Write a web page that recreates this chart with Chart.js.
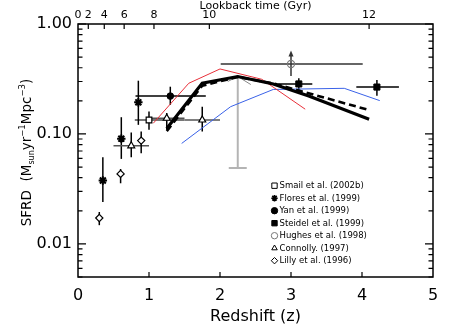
<!DOCTYPE html>
<html><head><meta charset="utf-8">
<script src="https://cdn.jsdelivr.net/npm/chart.js@4/dist/chart.umd.min.js"></script>
<style>html,body{margin:0;padding:0;background:#fff}</style>
</head><body>
<canvas id="c" width="457" height="326"></canvas>
<script>
// ---------- data ----------
const xTickValues = [0, 1, 2, 3, 4, 5];
const yTickValues = [0.01, 0.1, 1];
const lookbackLabels = ['0', '2', '4', '6', '8', '10', '12'];
const lookbackZ = [0, 0.145, 0.37, 0.65, 1.07, 1.85, 4.1];

const smailZ = [1.0], smailV = [0.134], smailLo = [0.109], smailHi = [0.160], smailZLo = [0.8], smailZHi = [1.5];
const smailLimZ = [2.25], smailLimV = [0.333], smailLimLo = [0.049];
const floresZ = [0.35, 0.61, 0.85], floresV = [0.0377, 0.0906, 0.194];
const floresLo = [0.0241, 0.0593, 0.121], floresHi = [0.0614, 0.142, 0.305];
const yanZ = [1.30], yanV = [0.221], yanLo = [0.184], yanHi = [0.269], yanZLo = [0.81], yanZHi = [1.80];
const steidelZ = [3.11, 4.21], steidelV = [0.285, 0.267], steidelLo = [0.251, 0.223], steidelHi = [0.321, 0.310];
const steidelZLo = [2.82, 3.92], steidelZHi = [3.30, 4.52];
const hughesZ = [3.0], hughesV = [0.433], hughesLo = [0.337], hughesHi = [0.54], hughesZLo = [2.01], hughesZHi = [4.01];
const connollyZ = [0.75, 1.25, 1.75], connollyV = [0.078, 0.139, 0.134];
const connollyLo = [0.0614, 0.109, 0.105], connollyHi = [0.103, 0.155, 0.177];
const connollyZLo = [0.5, 1.0, 1.5], connollyZHi = [1.0, 1.5, 2.0];
const lillyZ = [0.30, 0.60, 0.89], lillyV = [0.0172, 0.0433, 0.087];
const lillyLo = [0.0148, 0.0356, 0.0668], lillyHi = [0.0195, 0.048, 0.105];

const modelSolidZ = [1.25, 1.75, 2.25, 2.75, 3.25, 4.1], modelSolidV = [0.112, 0.29, 0.333, 0.285, 0.221, 0.136];
const modelDashZ = [1.25, 1.75, 2.25, 2.75, 4.1], modelDashV = [0.106, 0.275, 0.33, 0.288, 0.165];
const modelRedZ = [1.06, 1.56, 2.0, 2.59, 3.2], modelRedV = [0.125, 0.289, 0.39, 0.314, 0.168];
const modelBlueZ = [1.46, 2.15, 2.75, 3.75, 4.25], modelBlueV = [0.082, 0.177, 0.254, 0.26, 0.201];

const legendLabels = ['Smail et al. (2002b)', 'Flores et al. (1999)', 'Yan et al. (1999)', 'Steidel et al. (1999)',
  'Hughes et al. (1998)', 'Connolly. (1997)', 'Lilly et al. (1996)'];
const xTitle = 'Redshift (z)';
const topTitle = 'Lookback time (Gyr)';
const yTitleParts = [['SFRD  (M', 0], ['sun', -1], ['yr', 0], ['\u22121', 1], ['Mpc', 0], ['\u22123', 1], [')', 0]];

// ---------- helpers ----------
const pts = (zs, vs) => zs.map((z, i) => ({x: z, y: vs[i]}));
const errs = (zs, lo, hi, zlo, zhi) => zs.map((z, i) => ({
  lo: lo ? lo[i] : null, hi: hi ? hi[i] : null, zlo: zlo ? zlo[i] : null, zhi: zhi ? zhi[i] : null}));

const FONT = 'DejaVu Sans';
Chart.defaults.font.family = FONT;
Chart.defaults.color = '#000';

const markerSet = (label, zs, vs, style, radius, fill, stroke, bw, err, extra) => Object.assign({
  label, data: pts(zs, vs), showLine: false, pointStyle: style, pointRadius: radius,
  pointBackgroundColor: fill, pointBorderColor: stroke, pointBorderWidth: bw, err, legend: true
}, extra || {});

const lineSet = (zs, vs, color, width, dash) => ({
  label: '', data: pts(zs, vs), showLine: true, pointRadius: 0, borderColor: color,
  borderWidth: width, borderDash: dash || [], tension: 0, fill: false, legend: false
});

const datasets = [
  markerSet(legendLabels[0], smailZ, smailV, 'rect', 4, '#fff', '#000', 1.2,
    errs(smailZ, smailLo, smailHi, smailZLo, smailZHi), {errColor: '#000', hColor: '#777', hWidth: 2.2}),
  markerSet(legendLabels[1], floresZ, floresV, 'star', 4.2, '#000', '#000', 2,
    errs(floresZ, floresLo, floresHi)),
  markerSet(legendLabels[2], yanZ, yanV, 'circle', 3.3, '#000', '#000', 1,
    errs(yanZ, yanLo, yanHi, yanZLo, yanZHi)),
  markerSet(legendLabels[3], steidelZ, steidelV, 'rect', 4.3, '#000', '#000', 1,
    errs(steidelZ, steidelLo, steidelHi, steidelZLo, steidelZHi)),
  markerSet(legendLabels[4], hughesZ, hughesV, 'circle', 3.6, 'rgba(0,0,0,0)', '#777', 1.1,
    errs(hughesZ, hughesLo, hughesHi, hughesZLo, hughesZHi), {arrowUp: true, errColor: '#333'}),
  markerSet(legendLabels[5], connollyZ, connollyV, 'triangle', 4, '#fff', '#000', 1.2,
    errs(connollyZ, connollyLo, connollyHi, connollyZLo, connollyZHi), {hColor: '#555'}),
  markerSet(legendLabels[6], lillyZ, lillyV, 'rectRot', 3.6, '#fff', '#000', 1.2,
    errs(lillyZ, lillyLo, lillyHi)),
  Object.assign(markerSet('', smailLimZ, smailLimV, 'circle', 0, '#fff', '#aaa', 1,
    errs(smailLimZ, smailLimLo, null)), {legend: false, errColor: '#b4b4b4', errWidth: 2, capLow: 9, caret: true}),
  lineSet(modelSolidZ, modelSolidV, '#000', 3.2),
  lineSet(modelDashZ, modelDashV, '#000', 2.6, [7, 4]),
  lineSet(modelRedZ, modelRedV, '#e8303a', 1),
  lineSet(modelBlueZ, modelBlueV, '#3a62e8', 1)
];

// ---------- plugins ----------
const errorBars = {
  id: 'errorBars',
  beforeDatasetsDraw(chart) {
    const {ctx} = chart, xs = chart.scales.x, ys = chart.scales.y;
    ctx.save();
    chart.data.datasets.forEach(ds => {
      if (!ds.err) return;
      ds.data.forEach((p, i) => {
        const e = ds.err[i];
        const px = xs.getPixelForValue(p.x), py = ys.getPixelForValue(p.y);
        ctx.lineCap = 'butt';
        if (e.zlo != null) {
          ctx.strokeStyle = ds.hColor || ds.errColor || '#000';
          ctx.lineWidth = ds.hWidth || 1.5;
          ctx.beginPath();
          ctx.moveTo(xs.getPixelForValue(e.zlo), py);
          ctx.lineTo(xs.getPixelForValue(e.zhi), py);
          ctx.stroke();
        }
        ctx.strokeStyle = ds.errColor || '#000';
        ctx.lineWidth = ds.errWidth || 1.5;
        const yTop = e.hi != null ? ys.getPixelForValue(e.hi) : py;
        const yBot = e.lo != null ? ys.getPixelForValue(e.lo) : py;
        ctx.beginPath(); ctx.moveTo(px, yTop); ctx.lineTo(px, yBot); ctx.stroke();
        if (ds.capLow) {
          ctx.beginPath(); ctx.moveTo(px - ds.capLow, yBot); ctx.lineTo(px + ds.capLow, yBot); ctx.stroke();
        }
        if (ds.caret) {
          ctx.lineWidth = 1; ctx.strokeStyle = '#888';
          ctx.beginPath(); ctx.moveTo(px - 10, yTop + 5); ctx.lineTo(px, yTop); ctx.lineTo(px + 13, yTop + 8); ctx.stroke();
        }
        if (ds.arrowUp) {
          ctx.fillStyle = ds.errColor || '#000';
          ctx.beginPath(); ctx.moveTo(px, yTop - 3); ctx.lineTo(px - 2.5, yTop + 3); ctx.lineTo(px + 2.5, yTop + 3);
          ctx.closePath(); ctx.fill();
        }
      });
    });
    ctx.restore();
  }
};

const frame = {
  id: 'frame',
  afterDraw(chart) {
    const {ctx, chartArea: a} = chart, xs = chart.scales.x, ys = chart.scales.y;
    ctx.save();
    ctx.strokeStyle = '#000'; ctx.lineWidth = 1.5;
    ctx.strokeRect(a.left, a.top, a.right - a.left, a.bottom - a.top);
    ctx.lineWidth = 1.2;
    ctx.beginPath();
    for (let n = -3; n <= 0; n++) {
      for (let k = 1; k <= 9; k++) {
        const v = k * Math.pow(10, n);
        if (v < ys.min - 1e-9 || v > ys.max + 1e-9) continue;
        const py = ys.getPixelForValue(v);
        const len = k === 1 ? 8 : 4.5;
        ctx.moveTo(a.left, py); ctx.lineTo(a.left + len, py);
        ctx.moveTo(a.right, py); ctx.lineTo(a.right - len, py);
      }
    }
    xTickValues.forEach(v => {
      if (v <= xs.min || v >= xs.max) return;
      const px = xs.getPixelForValue(v);
      ctx.moveTo(px, a.bottom); ctx.lineTo(px, a.bottom - 5);
    });
    lookbackZ.forEach(v => {
      if (v <= xs.min || v >= xs.max) return;
      const px = xs.getPixelForValue(v);
      ctx.moveTo(px, a.top); ctx.lineTo(px, a.top + 5);
    });
    ctx.stroke();

    // y title with sub/superscripts
    ctx.fillStyle = '#000';
    ctx.textBaseline = 'alphabetic';
    const sizes = {0: 13.5, 1: 8.5, '-1': 8};
    let total = 0;
    yTitleParts.forEach(([t, s]) => { ctx.font = sizes[s] + 'px "' + FONT + '"'; total += ctx.measureText(t).width; });
    ctx.translate(31, (a.top + a.bottom) / 2 + 2);
    ctx.rotate(-Math.PI / 2);
    let x = -total / 2;
    yTitleParts.forEach(([t, s]) => {
      ctx.font = sizes[s] + 'px "' + FONT + '"';
      const dy = s === 1 ? -6 : (s === -1 ? 2.5 : 0);
      ctx.fillText(t, x, dy);
      x += ctx.measureText(t).width;
    });
    ctx.restore();

    // legend
    ctx.save();
    const lx = 274.5, ly0 = 185.7, dyl = 12.5;
    let row = 0;
    chart.data.datasets.forEach(ds => {
      if (!ds.legend) return;
      const y = ly0 + row * dyl;
      ctx.fillStyle = ds.pointBackgroundColor;
      ctx.strokeStyle = ds.pointBorderColor;
      ctx.lineWidth = ds.pointStyle === 'star' ? 1.6 : 1;
      Chart.helpers.drawPoint(ctx, {pointStyle: ds.pointStyle, rotation: 0, radius: ds.pointStyle === 'rect' ? 3.8 : 3.2,
        borderWidth: ctx.lineWidth}, lx, y);
      ctx.fillStyle = '#000';
      ctx.font = '8.5px "' + FONT + '"';
      ctx.textBaseline = 'middle';
      ctx.fillText(ds.label, lx + 5, y + 0.5);
      row++;
    });
    ctx.restore();
  }
};

new Chart(document.getElementById('c'), {
  type: 'scatter',
  data: {datasets},
  options: {
    responsive: false, animation: false, events: [],
    devicePixelRatio: 1,
    layout: {padding: {left: 0, right: 24, top: 0, bottom: 0}},
    plugins: {legend: {display: false}, tooltip: {enabled: false}},
    scales: {
      x: {
        type: 'linear', position: 'bottom', min: 0, max: 5,
        afterBuildTicks: s => { s.ticks = xTickValues.map(v => ({value: v})); },
        afterFit: s => { s.height = 49; },
        grid: {display: false, drawTicks: false}, border: {display: false},
        ticks: {padding: 9.5, font: {size: 16}, color: '#000', callback: v => String(v), maxRotation: 0, autoSkip: false},
        title: {display: true, text: xTitle, font: {size: 16}, color: '#000', padding: {top: 0, bottom: 0}}
      },
      x2: {
        type: 'linear', position: 'top', min: 0, max: 5,
        afterBuildTicks: s => { s.ticks = lookbackZ.map(v => ({value: v})); },
        afterFit: s => { s.height = 24; },
        grid: {display: false, drawTicks: false}, border: {display: false},
        ticks: {padding: 2, font: {size: 11}, color: '#000', maxRotation: 0, autoSkip: false,
          callback: (v, i) => lookbackLabels[i]},
        title: {display: true, text: topTitle, font: {size: 11, lineHeight: 1.1}, color: '#000', padding: {top: 0, bottom: 0}}
      },
      y: {
        type: 'logarithmic', position: 'left', min: 0.005, max: 1,
        afterBuildTicks: s => { s.ticks = yTickValues.map(v => ({value: v, major: true})); },
        afterFit: s => { s.width = 78; },
        grid: {display: false, drawTicks: false}, border: {display: false},
        ticks: {padding: 6, font: {size: 16}, color: '#000', autoSkip: false, callback: v => Number(v).toFixed(2)}
      }
    }
  },
  plugins: [errorBars, frame]
});
</script>
</body></html>
